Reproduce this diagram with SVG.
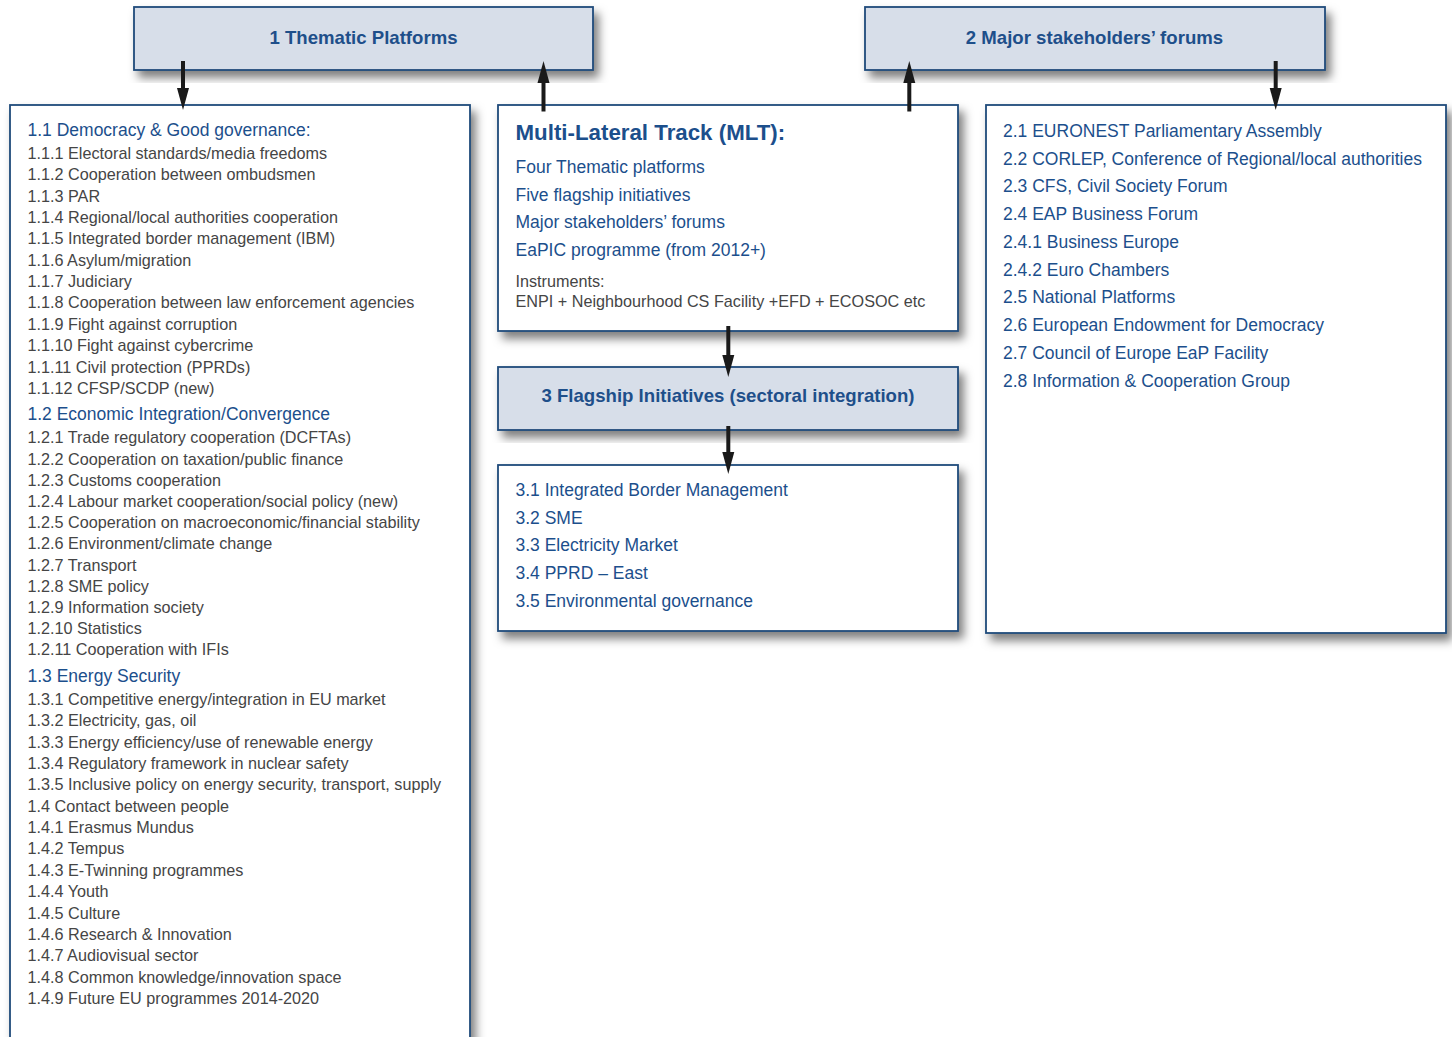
<svg xmlns="http://www.w3.org/2000/svg" width="1452" height="1037" viewBox="0 0 1452 1037">
<defs>
<filter id="sh" x="-10%" y="-10%" width="125%" height="130%">
<feDropShadow dx="5" dy="7" stdDeviation="5" flood-color="#000" flood-opacity="0.5"/>
</filter>
<style>
.box{fill:#fff;stroke:#214b7b;stroke-width:1.8;filter:url(#sh)}
.hdr{fill:#d7dee9;stroke:#214b7b;stroke-width:1.8;filter:url(#sh)}
.ht{font-family:"Liberation Sans",Arial,sans-serif;font-weight:bold;font-size:18.6px;fill:#1e4f8a;text-anchor:middle}
.b{font-family:"Liberation Sans",Arial,sans-serif;font-size:17.5px;fill:#1c4f8c}
.g{font-family:"Liberation Sans",Arial,sans-serif;font-size:16.2px;fill:#454545}
.g2{font-family:"Liberation Sans",Arial,sans-serif;font-size:16.2px;fill:#454545}
.t{font-family:"Liberation Sans",Arial,sans-serif;font-weight:bold;font-size:22.3px;fill:#1c4f8c}
.sh{stroke:#1a1a1a;stroke-width:4}
.hd{fill:#1a1a1a}
</style>
</defs>
<rect width="1452" height="1037" fill="#fff"/>

<g id="n1">
<rect class="hdr" x="134" y="7" width="459" height="63"/>
<text class="ht" x="363.5" y="43.5">1 Thematic Platforms</text>
</g>

<g id="n2">
<rect class="hdr" x="865" y="7" width="460" height="63"/>
<text class="ht" x="1094.5" y="43.5">2 Major stakeholders’ forums</text>
</g>

<g id="n11">
<rect class="box" x="10" y="105" width="460" height="960"/>
<text class="b" x="27.5" y="136">1.1 Democracy &amp; Good governance:</text>
<text class="g" x="27.5" y="159">1.1.1 Electoral standards/media freedoms</text>
<text class="g" x="27.5" y="180.35">1.1.2 Cooperation between ombudsmen</text>
<text class="g" x="27.5" y="201.7">1.1.3 PAR</text>
<text class="g" x="27.5" y="223.05">1.1.4 Regional/local authorities cooperation</text>
<text class="g" x="27.5" y="244.4">1.1.5 Integrated border management (IBM)</text>
<text class="g" x="27.5" y="265.75">1.1.6 Asylum/migration</text>
<text class="g" x="27.5" y="287.1">1.1.7 Judiciary</text>
<text class="g" x="27.5" y="308.45">1.1.8 Cooperation between law enforcement agencies</text>
<text class="g" x="27.5" y="329.8">1.1.9 Fight against corruption</text>
<text class="g" x="27.5" y="351.15">1.1.10 Fight against cybercrime</text>
<text class="g" x="27.5" y="372.5">1.1.11 Civil protection (PPRDs)</text>
<text class="g" x="27.5" y="393.85">1.1.12 CFSP/SCDP (new)</text>
<text class="b" x="27.5" y="420">1.2 Economic Integration/Convergence</text>
<text class="g" x="27.5" y="443.3">1.2.1 Trade regulatory cooperation (DCFTAs)</text>
<text class="g" x="27.5" y="464.5">1.2.2 Cooperation on taxation/public finance</text>
<text class="g" x="27.5" y="485.7">1.2.3 Customs cooperation</text>
<text class="g" x="27.5" y="506.9">1.2.4 Labour market cooperation/social policy (new)</text>
<text class="g" x="27.5" y="528.1">1.2.5 Cooperation on macroeconomic/financial stability</text>
<text class="g" x="27.5" y="549.3">1.2.6 Environment/climate change</text>
<text class="g" x="27.5" y="570.5">1.2.7 Transport</text>
<text class="g" x="27.5" y="591.7">1.2.8 SME policy</text>
<text class="g" x="27.5" y="612.9">1.2.9 Information society</text>
<text class="g" x="27.5" y="634.1">1.2.10 Statistics</text>
<text class="g" x="27.5" y="655.3">1.2.11 Cooperation with IFIs</text>
<text class="b" x="27.5" y="681.7">1.3 Energy Security</text>
<text class="g" x="27.5" y="705">1.3.1 Competitive energy/integration in EU market</text>
<text class="g" x="27.5" y="726.35">1.3.2 Electricity, gas, oil</text>
<text class="g" x="27.5" y="747.7">1.3.3 Energy efficiency/use of  renewable energy</text>
<text class="g" x="27.5" y="769.05">1.3.4 Regulatory framework in nuclear safety</text>
<text class="g" x="27.5" y="790.4">1.3.5 Inclusive policy on energy security, transport, supply</text>
<text class="g" x="27.5" y="811.75">1.4 Contact between people</text>
<text class="g" x="27.5" y="833.1">1.4.1 Erasmus Mundus</text>
<text class="g" x="27.5" y="854.45">1.4.2 Tempus</text>
<text class="g" x="27.5" y="875.8">1.4.3 E-Twinning programmes</text>
<text class="g" x="27.5" y="897.15">1.4.4 Youth</text>
<text class="g" x="27.5" y="918.5">1.4.5 Culture</text>
<text class="g" x="27.5" y="939.85">1.4.6 Research &amp; Innovation</text>
<text class="g" x="27.5" y="961.2">1.4.7 Audiovisual sector</text>
<text class="g" x="27.5" y="982.55">1.4.8 Common knowledge/innovation space</text>
<text class="g" x="27.5" y="1003.9">1.4.9 Future EU programmes 2014-2020</text>
</g>

<g id="mlt">
<rect class="box" x="498" y="105" width="460" height="226"/>
<text class="t" x="515.5" y="140">Multi-Lateral Track (MLT):</text>
<text class="b" x="515.5" y="172.7">Four Thematic platforms</text>
<text class="b" x="515.5" y="200.5">Five flagship initiatives</text>
<text class="b" x="515.5" y="228.3">Major stakeholders’ forums</text>
<text class="b" x="515.5" y="256">EaPIC programme (from 2012+)</text>
<text class="g2" x="515.5" y="286.7">Instruments:</text>
<text class="g2" x="515.5" y="307.3">ENPI + Neighbourhood CS Facility +EFD + ECOSOC etc</text>
</g>

<g id="n3">
<rect class="hdr" x="498" y="367" width="460" height="63"/>
<text class="ht" x="728" y="402.3">3 Flagship Initiatives (sectoral integration)</text>
</g>

<g id="n31">
<rect class="box" x="498" y="465" width="460" height="166"/>
<text class="b" x="515.5" y="496">3.1 Integrated Border Management</text>
<text class="b" x="515.5" y="523.7">3.2 SME</text>
<text class="b" x="515.5" y="551.4">3.3 Electricity Market</text>
<text class="b" x="515.5" y="579.1">3.4 PPRD – East</text>
<text class="b" x="515.5" y="606.8">3.5 Environmental governance</text>
</g>

<g id="n21">
<rect class="box" x="986" y="105" width="460" height="528"/>
<text class="b" x="1003" y="136.7">2.1 EURONEST Parliamentary Assembly</text>
<text class="b" x="1003" y="164.5">2.2 CORLEP, Conference of Regional/local authorities</text>
<text class="b" x="1003" y="192.3">2.3 CFS, Civil Society Forum</text>
<text class="b" x="1003" y="220">2.4 EAP Business Forum</text>
<text class="b" x="1003" y="247.8">2.4.1 Business Europe</text>
<text class="b" x="1003" y="275.6">2.4.2 Euro Chambers</text>
<text class="b" x="1003" y="303.4">2.5 National Platforms</text>
<text class="b" x="1003" y="331.2">2.6 European Endowment for Democracy</text>
<text class="b" x="1003" y="358.9">2.7 Council of Europe EaP Facility</text>
<text class="b" x="1003" y="386.7">2.8 Information &amp; Cooperation Group</text>
</g>

<g id="connectors">
<line class="sh" x1="183" y1="61" x2="183" y2="92"/>
<polygon class="hd" points="177,88 189,88 183,110"/>
<line class="sh" x1="543.5" y1="111.5" x2="543.5" y2="80"/>
<polygon class="hd" points="537.5,83 549.5,83 543.5,61"/>
<line class="sh" x1="909.3" y1="111.5" x2="909.3" y2="80"/>
<polygon class="hd" points="903.3,83 915.3,83 909.3,61"/>
<line class="sh" x1="1275.7" y1="61" x2="1275.7" y2="92"/>
<polygon class="hd" points="1269.7,88 1281.7,88 1275.7,110"/>
<line class="sh" x1="728.3" y1="326" x2="728.3" y2="358"/>
<polygon class="hd" points="722.3,355 734.3,355 728.3,377"/>
<line class="sh" x1="728.3" y1="426" x2="728.3" y2="456"/>
<polygon class="hd" points="722.3,452 734.3,452 728.3,474"/>
</g>
</svg>
